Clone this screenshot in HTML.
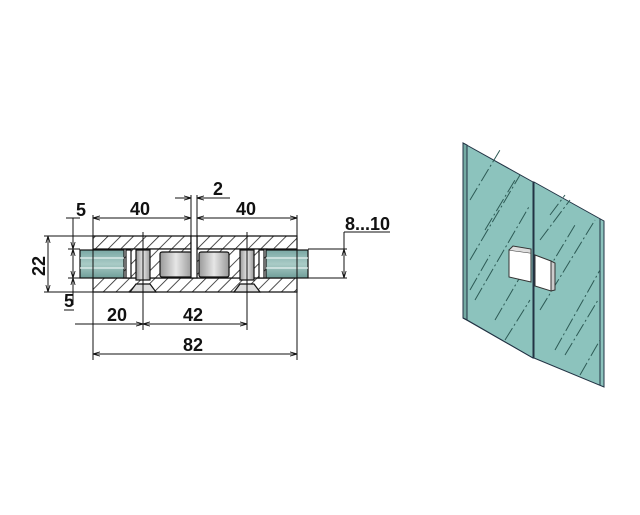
<!DOCTYPE html>
<html><head><style>
html,body{margin:0;padding:0;background:#fff;}
svg{display:block;}
text{font-family:"Liberation Sans",Arial,sans-serif;font-weight:bold;font-size:18px;fill:#111;}
</style></head><body>
<svg width="640" height="515" viewBox="0 0 640 515" xmlns="http://www.w3.org/2000/svg">
<defs>
<pattern id="h" width="9" height="9" patternUnits="userSpaceOnUse" patternTransform="rotate(45)">
<rect width="9" height="9" fill="#fff"/><line x1="0" y1="0" x2="0" y2="9" stroke="#222" stroke-width="1.6"/>
</pattern>
<linearGradient id="g" x1="0" y1="0" x2="0" y2="1"><stop offset="0" stop-color="#7aa8a4"/><stop offset="0.5" stop-color="#a9cbc6"/><stop offset="1" stop-color="#6f9e99"/></linearGradient>
<linearGradient id="b" x1="0" y1="0" x2="1" y2="0"><stop offset="0" stop-color="#999"/><stop offset="0.5" stop-color="#e6e6e6"/><stop offset="1" stop-color="#999"/></linearGradient>
<marker id="a" viewBox="0 0 10 10" refX="10" refY="5" markerWidth="7" markerHeight="7" orient="auto-start-reverse"><path d="M0,2 L10,5 L0,8" fill="none" stroke="#111" stroke-width="1.2"/></marker>
</defs>
<g stroke="#111" stroke-width="1.2">
<path d="M93,236 H191 V249 H93 Z" fill="url(#h)"/>
<path d="M197,236 H297 V249 H197 Z" fill="url(#h)"/>
<path d="M93,278 H297 V292 H93 Z" fill="url(#h)"/>
<rect x="123" y="249" width="144" height="29" fill="url(#h)"/>
<rect x="80" y="250" width="44" height="28" fill="url(#g)"/>
<rect x="266" y="250" width="42" height="28" fill="url(#g)"/>
<line x1="80" y1="258" x2="124" y2="258" stroke="#e8f3f1"/><line x1="80" y1="268" x2="124" y2="268" stroke="#e8f3f1"/>
<line x1="266" y1="258" x2="308" y2="258" stroke="#e8f3f1"/><line x1="266" y1="268" x2="308" y2="268" stroke="#e8f3f1"/>
<rect x="126" y="250" width="5" height="28" fill="#fff"/>
<rect x="259" y="250" width="5" height="28" fill="#fff"/>
<rect x="136" y="250" width="14" height="30" fill="url(#b)"/>
<path d="M130,292 L136,284 H150 L156,292 Z" fill="#ddd"/>
<rect x="240" y="250" width="14" height="30" fill="url(#b)"/>
<path d="M234,292 L240,284 H254 L260,292 Z" fill="#ddd"/>
<rect x="160" y="252" width="32" height="25" rx="2" fill="url(#b)"/>
<rect x="199" y="252" width="30" height="25" rx="2" fill="url(#b)"/>
<rect x="191" y="236" width="6" height="42" fill="#fff"/>
</g>
<g stroke="#111" stroke-width="1" fill="none">
<line x1="93" y1="215" x2="93" y2="360"/><line x1="297" y1="215" x2="297" y2="360"/>
<line x1="191" y1="195" x2="191" y2="236"/><line x1="197" y1="195" x2="197" y2="236"/>
<line x1="143" y1="232" x2="143" y2="330"/><line x1="247" y1="232" x2="247" y2="330"/>
<line x1="44" y1="236" x2="93" y2="236"/><line x1="44" y1="292" x2="93" y2="292"/>
<line x1="68" y1="249" x2="80" y2="249"/><line x1="68" y1="278" x2="80" y2="278"/>
<line x1="308" y1="278" x2="347" y2="278"/><line x1="308" y1="249" x2="347" y2="249"/>
<line x1="93" y1="218" x2="191" y2="218" marker-start="url(#a)" marker-end="url(#a)"/>
<line x1="197" y1="218" x2="297" y2="218" marker-start="url(#a)" marker-end="url(#a)"/>
<line x1="175" y1="198" x2="191" y2="198" marker-end="url(#a)"/>
<line x1="230" y1="198" x2="197" y2="198" marker-end="url(#a)"/>
<line x1="48" y1="236" x2="48" y2="292" marker-start="url(#a)" marker-end="url(#a)"/>
<line x1="73" y1="218" x2="73" y2="249" marker-end="url(#a)"/>
<line x1="73" y1="249" x2="73" y2="278" marker-start="url(#a)" marker-end="url(#a)"/>
<line x1="73" y1="305" x2="73" y2="278" marker-end="url(#a)"/>
<line x1="66" y1="218" x2="80" y2="218"/><line x1="64" y1="310" x2="74" y2="310"/>
<line x1="344" y1="232" x2="344" y2="249"/>
<line x1="344" y1="249" x2="344" y2="278" marker-start="url(#a)" marker-end="url(#a)"/>
<line x1="344" y1="232" x2="390" y2="232"/>
<line x1="75" y1="324" x2="143" y2="324" marker-end="url(#a)"/>
<line x1="143" y1="324" x2="247" y2="324" marker-start="url(#a)" marker-end="url(#a)"/>
<line x1="93" y1="354" x2="297" y2="354" marker-start="url(#a)" marker-end="url(#a)"/>
</g>
<text x="130" y="215">40</text><text x="236" y="215">40</text>
<text x="213" y="195">2</text>
<text x="76" y="216">5</text><text x="64" y="307">5</text>
<text x="345" y="230">8...10</text>
<text x="107" y="321">20</text><text x="183" y="321">42</text><text x="183" y="351">82</text>
<text transform="translate(45,276) rotate(-90)">22</text>
<g stroke="#234" stroke-width="1">
<path d="M463,143 L533,182 L533,358 L463,318 Z" fill="#8cc3bd"/>
<path d="M534,182 L604,221 L604,387 L534,358 Z" fill="#8cc3bd"/>
<path d="M463,143 L467,145 L467,320 L463,318 Z" fill="#74aaa3"/>
<path d="M463,318 L467,320 L533,358" fill="none"/>
<path d="M600,219 L600,385" fill="none"/>
</g>
<g stroke="#2d5a55" stroke-width="1" stroke-dasharray="14,3,2,3" fill="none">
<path d="M470,200 L500,150"/><path d="M470,260 L520,175"/><path d="M475,300 L530,205"/>
<path d="M495,320 L530,260"/><path d="M540,240 L570,200"/><path d="M540,310 L595,220"/>
<path d="M555,350 L600,270"/><path d="M580,375 L600,340"/><path d="M485,230 L515,180"/>
<path d="M470,290 L490,255"/><path d="M545,275 L575,225"/><path d="M565,355 L598,300"/>
<path d="M505,340 L530,300"/><path d="M550,215 L565,195"/>
</g>
<g stroke="#333" stroke-width="1">
<path d="M509,250 L531,253 L531,282 L509,277 Z" fill="#fff"/>
<path d="M535,255 L551,261 L551,291 L535,286 Z" fill="#fff"/>
<path d="M551,261 L555,263 L555,290 L551,291 Z" fill="#ccc"/>
<path d="M509,250 L513,246 L531,249 L531,253" fill="#ddd"/>
</g>
</svg>
</body></html>
